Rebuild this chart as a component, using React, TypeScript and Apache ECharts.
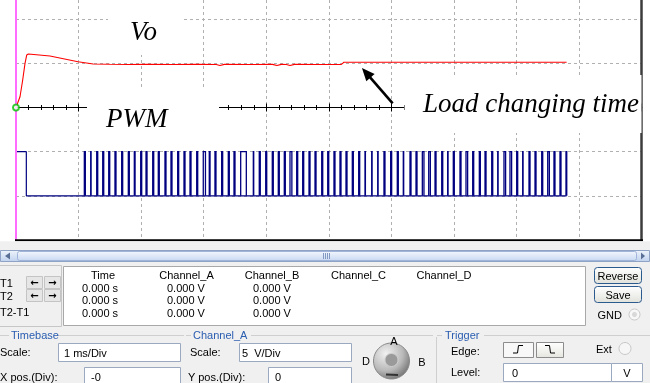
import React, { useEffect, useRef } from "react";
import * as echarts from "echarts";

// ---------- data ----------
const VOLTS_PER_DIV = 5; // Channel_A scale
const PWM_LOW_DIV = -2; // Channel B trace: low level (divisions)
const PWM_HIGH_DIV = -1; // Channel B trace: high level (divisions)
const TIME_DIVS = 10; // 1 ms/Div

// Vo (Channel A), time in ms, value in V
const voTimeMs = [0, 0.064, 0.107, 0.144, 0.171, 0.197, 0.543, 0.991, 1.235, 1.5, 1.8, 2.1, 2.5, 2.9, 3.2, 3.26, 3.33, 3.7, 4.1, 4.17, 4.24, 4.32, 4.38, 4.45, 4.8, 5.2, 5.22, 5.24, 8.8];
const voVolts = [0, 1.22, 3.11, 5.0, 5.94, 6.06, 5.83, 5.18, 4.92, 4.89, 4.87, 4.9, 4.86, 4.89, 4.87, 4.76, 4.88, 4.86, 4.88, 4.75, 4.88, 4.87, 4.75, 4.88, 4.87, 4.88, 5.0, 5.12, 5.12];

// PWM (Channel B): initial high interval, baseline end, then narrow pulses
const pwmInitialHighEndMs = 0.165;
const pwmEndMs = 8.8;
const pwmStartMs = [
  1.092, 1.194, 1.29, 1.386, 1.482, 1.582, 1.689, 1.795, 1.891, 1.993,
  2.078, 2.185, 2.274, 2.381, 2.477, 2.584, 2.685, 2.781, 2.888, 2.993,
  3.089, 3.18, 3.287, 3.393, 3.484, 3.591, 3.793, 3.888, 3.991, 4.096,
  4.192, 4.288, 4.379, 4.486, 4.582, 4.683, 4.779, 4.886, 4.982, 5.082,
  5.178, 5.274, 5.375, 5.477, 5.578, 5.685, 5.781, 5.881, 5.988, 6.094,
  6.19, 6.297, 6.393, 6.494, 6.596, 6.697, 6.804, 6.899, 6.989, 7.096,
  7.192, 7.299, 7.405, 7.496, 7.603, 7.699, 7.799, 7.895, 8.002, 8.098,
  8.199, 8.295, 8.402, 8.498, 8.598, 8.694, 8.79,
];
const pwmWidthMs = [
  0.016, 0.006, 0.016, 0.016, 0.016, 0.016, 0.016, 0.016, 0.012, 0.016,
  0.016, 0.016, 0.016, 0.016, 0.016, 0.016, 0.016, 0.016, 0.016, 0.035,
  0.012, 0.016, 0.016, 0.016, 0.016, 0.09, 0.006, 0.016, 0.016, 0.016,
  0.016, 0.016, 0.03, 0.016, 0.016, 0.016, 0.016, 0.016, 0.016, 0.016,
  0.016, 0.016, 0.016, 0.016, 0.006, 0.006, 0.006, 0.016, 0.016, 0.016,
  0.006, 0.016, 0.016, 0.026, 0.026, 0.016, 0.016, 0.006, 0.016, 0.016,
  0.026, 0.016, 0.016, 0.016, 0.016, 0.006, 0.026, 0.026, 0.016, 0.006,
  0.016, 0.016, 0.016, 0.026, 0.016, 0.016, 0.012,
];

// trigger point and annotation arrow (ms, div)
const triggerPoint = [0, 0];
const arrowTail = [6.02, 0.095];
const arrowHead = [5.597, 0.786];

// readout panel texts
const readoutHeaders = ["Time", "Channel_A", "Channel_B", "Channel_C", "Channel_D"];
const cursorRows = ["T1", "T2", "T2-T1"];
const timeReadings = ["0.000 s", "0.000 s", "0.000 s"];
const chanAReadings = ["0.000 V", "0.000 V", "0.000 V"];
const chanBReadings = ["0.000 V", "0.000 V", "0.000 V"];

// ---------- helpers ----------
const UI_FONT = '11px "Liberation Sans", Arial, sans-serif';
const LABEL_FONT = 'italic 27px "Liberation Serif", "Times New Roman", serif';
const BLUE = "#2a5db0";
const PWM_COLOR = "#000080";

const txt = (text: string, x: number, y: number, o: any = {}) => ({
  type: "text",
  z: o.z ?? 30,
  style: {
    text,
    x,
    y,
    font: o.font ?? UI_FONT,
    fill: o.fill ?? "#000",
    textAlign: o.align ?? "left",
    textVerticalAlign: "middle",
  },
});
const rect = (x: number, y: number, w: number, h: number, fill: any, stroke?: string, o: any = {}) => ({
  type: "rect",
  z: o.z ?? 22,
  shape: { x, y, width: w, height: h, r: o.r ?? 0 },
  style: { fill, stroke: stroke ?? null, lineWidth: o.lw ?? 1 },
});
const line = (x1: number, y1: number, x2: number, y2: number, stroke: string, o: any = {}) => ({
  type: "line",
  z: o.z ?? 24,
  shape: { x1, y1, x2, y2 },
  style: { stroke, lineWidth: o.lw ?? 1 },
});
const vGrad = (a: string, b: string) => ({
  type: "linear", x: 0, y: 0, x2: 0, y2: 1,
  colorStops: [{ offset: 0, color: a }, { offset: 1, color: b }],
});

function buildGraphic() {
  const g: any[] = [];
  // occluding white boxes behind annotations (over grid, under traces)
  g.push(rect(108, 0, 74, 55, "#fff", undefined, { z: 1 }));
  g.push(rect(87, 88, 132, 62, "#fff", undefined, { z: 1 }));
  g.push(rect(404.5, 75, 237, 58, "#fff", undefined, { z: 1 }));
  g.push(rect(84.5, 152.5, 482.5, 42.5, "#fff", undefined, { z: 1 }));
  // annotation labels
  g.push(txt("Vo", 130, 30.5, { font: LABEL_FONT, z: 8 }));
  g.push(txt("PWM", 106, 118, { font: LABEL_FONT, z: 8 }));
  g.push(txt("Load changing time", 423, 102.5, { font: LABEL_FONT, z: 8 }));
  // bottom border of screen
  g.push(line(15, 240.3, 643, 240.3, "#000", { lw: 2, z: 9 }));

  // ---------- control panel ----------
  g.push(rect(0, 241.3, 650, 142, "#f0f0f0", undefined, { z: 12 }));
  // scrollbar
  g.push(rect(0.5, 250.5, 649, 11, vGrad("#eef3fb", "#c0d2ee"), "#8ea3c6", { z: 13 }));
  g.push(rect(17.5, 251.5, 619, 9, vGrad("#f2f6fd", "#c9d9f2"), "#9fb4d8", { z: 14, r: 2 }));
  g.push({ type: "polygon", z: 15, shape: { points: [[5, 256], [10, 252.5], [10, 259.5]] }, style: { fill: "#5a6f96" } });
  g.push({ type: "polygon", z: 15, shape: { points: [[645, 256], [641, 252.5], [641, 259.5]] }, style: { fill: "#5a6f96" } });
  [323.5, 325.5, 327.5, 329.5].forEach((x) => g.push(line(x, 253, x, 259, "#8299c2", { z: 15 })));

  // cursor box + readout table
  g.push(rect(-1, 265.5, 62.5, 61, "#f0f0f0", "#c6c6c6"));
  g.push(rect(63.5, 266.5, 522, 59, "#fff", "#a8a8a8"));
  g.push(txt(cursorRows[0], 0, 282.5));
  g.push(txt(cursorRows[1], 0, 296));
  g.push(txt(cursorRows[2], 0, 311.5));
  [276.5, 289.5].forEach((y) => {
    g.push(rect(26.5, y, 16, 12, "#e6e6e6", "#c4c4c4"));
    g.push(rect(44.5, y, 16, 12, "#e6e6e6", "#c4c4c4"));
    g.push(txt("\u2190", 34.5, y + 6, { align: "center", font: 'bold 10px "DejaVu Sans"' }));
    g.push(txt("\u2192", 52.5, y + 6, { align: "center", font: 'bold 10px "DejaVu Sans"' }));
  });
  const headerX = [103, 186.5, 272, 358.5, 444];
  readoutHeaders.forEach((h, i) => g.push(txt(h, headerX[i], 275, { align: "center" })));
  const rowY = [287.5, 300, 313];
  rowY.forEach((y, i) => {
    g.push(txt(timeReadings[i], 82, y));
    g.push(txt(chanAReadings[i], 167, y));
    g.push(txt(chanBReadings[i], 253, y));
  });
  // Reverse / Save / GND
  g.push(rect(594.5, 267.5, 47, 16, vGrad("#ffffff", "#e2e2dc"), "#2b5a8f", { r: 3 }));
  g.push(txt("Reverse", 618, 275.5, { align: "center" }));
  g.push(rect(594.5, 286.5, 47, 16, vGrad("#ffffff", "#e2e2dc"), "#2b5a8f", { r: 3 }));
  g.push(txt("Save", 618, 294.5, { align: "center" }));
  g.push(txt("GND", 622, 314.5, { align: "right" }));
  g.push({ type: "circle", z: 23, shape: { cx: 634.5, cy: 314.5, r: 5.5 }, style: { fill: "#f7f7f7", stroke: "#c9c9c9" } });
  g.push({ type: "circle", z: 24, shape: { cx: 634.5, cy: 314.5, r: 2.5 }, style: { fill: "#d8d8d8" } });

  // group frames
  const GL = "#cfcfcf";
  g.push(line(0, 335.5, 9, 335.5, GL));
  g.push(line(58, 335.5, 184, 335.5, GL));
  g.push(line(186, 335.5, 191, 335.5, GL));
  g.push(line(251, 335.5, 433, 335.5, GL));
  g.push(line(436.5, 337, 436.5, 383, GL));
  g.push(line(437, 335.5, 442, 335.5, GL));
  g.push(line(484, 335.5, 650, 335.5, GL));
  g.push(txt("Timebase", 11, 335, { fill: BLUE }));
  g.push(txt("Channel_A", 193, 335, { fill: BLUE }));
  g.push(txt("Trigger", 445, 335, { fill: BLUE }));

  // Timebase
  const INB = "#9aa9bf";
  g.push(txt("Scale:", 0, 351.5));
  g.push(rect(58.5, 343.5, 122, 18, "#fff", INB));
  g.push(txt("1 ms/Div", 64, 352.5));
  g.push(txt("X pos.(Div):", 0, 376.5));
  g.push(rect(84.5, 367.5, 96, 17, "#fff", INB));
  g.push(txt("-0", 91, 376.5));
  // Channel_A
  g.push(txt("Scale:", 190, 351.5));
  g.push(rect(239.5, 343.5, 112, 18, "#fff", INB));
  g.push(txt("5\u00a0\u00a0V/Div", 242, 352.5));
  g.push(txt("Y pos.(Div):", 188, 376.5));
  g.push(rect(268.5, 367.5, 83, 17, "#fff", INB));
  g.push(txt("0", 275, 376.5));
  // channel knob
  g.push({
    type: "circle", z: 23, shape: { cx: 391.5, cy: 361, r: 18 },
    style: {
      fill: { type: "radial", x: 0.35, y: 0.3, r: 0.85, colorStops: [{ offset: 0, color: "#f2f2f2" }, { offset: 0.55, color: "#b9b9b9" }, { offset: 1, color: "#5e5e5e" }] },
      stroke: "#8a8a8a",
    },
  });
  g.push({ type: "circle", z: 24, shape: { cx: 391.5, cy: 360, r: 6.5 }, style: { fill: "#9a9a9a", stroke: "#d0d0d0" } });
  g.push(line(386, 374.5, 398, 375, "#333", { lw: 2 }));
  g.push(txt("A", 394, 341, { align: "center" }));
  g.push(txt("D", 366, 361, { align: "center" }));
  g.push(txt("B", 422, 362, { align: "center" }));
  // Trigger
  g.push(txt("Edge:", 451, 350.5));
  g.push(rect(503.5, 342.5, 30, 15, "#f8f8f8", "#8c8c8c"));
  g.push(rect(536.5, 342.5, 27, 15, vGrad("#ffffff", "#e6e6e0"), "#8c8c8c"));
  g.push({ type: "polyline", z: 25, shape: { points: [[513, 353], [517.5, 353], [518.5, 345.5], [523, 345.5]] }, style: { stroke: "#000", lineWidth: 1, fill: null } });
  g.push({ type: "polyline", z: 25, shape: { points: [[545, 345.5], [549.5, 345.5], [550.5, 353], [555, 353]] }, style: { stroke: "#000", lineWidth: 1, fill: null } });
  g.push(txt("Ext", 596, 348.5));
  g.push({ type: "circle", z: 23, shape: { cx: 625, cy: 348.5, r: 6 }, style: { fill: "#f6f6f6", stroke: "#c8c8c8" } });
  g.push(txt("Level:", 451, 371.5));
  g.push(rect(503.5, 363.5, 108, 18, "#fff", INB));
  g.push(txt("0", 512, 372.5));
  g.push(rect(611.5, 363.5, 31, 18, "#fff", INB));
  g.push(txt("V", 627, 372.5, { align: "center" }));
  return g;
}

export default function App() {
  const ref = useRef<HTMLDivElement>(null);
  useEffect(() => {
    const chart = echarts.init(ref.current!, null, { renderer: "svg" });
    const grid = "#b0b0b0";
    const tickX = (position: string) => ({
      type: "value",
      min: 0,
      max: TIME_DIVS,
      interval: 1,
      position,
      axisLine: { show: true, onZero: true, onZeroAxisIndex: 0, lineStyle: { color: "#000", width: 1 } },
      axisTick: { show: true, length: 4, lineStyle: { color: "#000", width: 1 } },
      minorTick: { show: true, splitNumber: 5, length: 2.5, lineStyle: { color: "#000", width: 1 } },
      axisLabel: { show: false },
      splitLine: position === "bottom"
        ? { show: true, showMinLine: false, lineStyle: { color: grid, type: [3, 3], width: 1 } }
        : { show: false },
      minorSplitLine: { show: false },
    });
    chart.setOption({
      animation: false,
      grid: { left: 16, right: 8.3, top: 0, bottom: 143, containLabel: false },
      xAxis: [tickX("bottom"), tickX("top")],
      yAxis: {
        type: "value",
        min: -3,
        max: 2.434,
        interval: 1,
        position: "right",
        axisLine: { show: true, onZero: false, lineStyle: { color: "#3c3c3c", width: 2.5 } },
        axisTick: { show: false },
        axisLabel: { show: false },
        splitLine: { show: true, showMaxLine: false, lineStyle: { color: grid, type: [3, 3], width: 1 } },
      },
      series: [
        {
          name: "Vo",
          type: "line",
          z: 3,
          showSymbol: false,
          symbol: "none",
          data: voTimeMs.map((t, i) => [t, voVolts[i] / VOLTS_PER_DIV]),
          lineStyle: { color: "#ff0000", width: 1.1 },
          markLine: {
            silent: true,
            symbol: "none",
            label: { show: false },
            data: [
              { xAxis: 0, lineStyle: { color: "#ff6cff", width: 2, type: "solid" } },
              [
                { coord: arrowTail, symbol: "none" },
                { coord: arrowHead, symbol: "triangle", symbolSize: [11, 13] },
              ],
            ],
            lineStyle: { color: "#000", width: 2.6, type: "solid" },
            itemStyle: { color: "#000" },
          },
        },
        {
          name: "PWM baseline",
          type: "line",
          z: 3,
          showSymbol: false,
          symbol: "none",
          data: [
            [0, PWM_HIGH_DIV],
            [pwmInitialHighEndMs, PWM_HIGH_DIV],
            [pwmInitialHighEndMs, PWM_LOW_DIV],
            [pwmEndMs, PWM_LOW_DIV],
          ],
          lineStyle: { color: PWM_COLOR, width: 1.2 },
        },
        {
          name: "PWM pulses",
          type: "custom",
          z: 3,
          encode: { x: [0, 1] },
          data: pwmStartMs.map((s, i) => [s, s + pwmWidthMs[i]]),
          renderItem: (_params: any, api: any) => {
            const a = api.coord([api.value(0), PWM_LOW_DIV]);
            const b = api.coord([api.value(1), PWM_HIGH_DIV]);
            return {
              type: "polyline",
              shape: { points: [[a[0], a[1]], [a[0], b[1]], [b[0], b[1]], [b[0], a[1]]] },
              style: { stroke: PWM_COLOR, lineWidth: 1.3, fill: null },
            };
          },
        },
        {
          name: "trigger",
          type: "scatter",
          z: 5,
          symbol: "emptyCircle",
          symbolSize: 6,
          data: [triggerPoint],
          itemStyle: { color: "#00c000", borderColor: "#00c000", borderWidth: 1 },
        },
      ],
      graphic: { elements: buildGraphic() },
    });
    return () => chart.dispose();
  }, []);
  return <div ref={ref} style={{ position: "fixed", left: 0, top: 0, width: 650, height: 383 }} />;
}
